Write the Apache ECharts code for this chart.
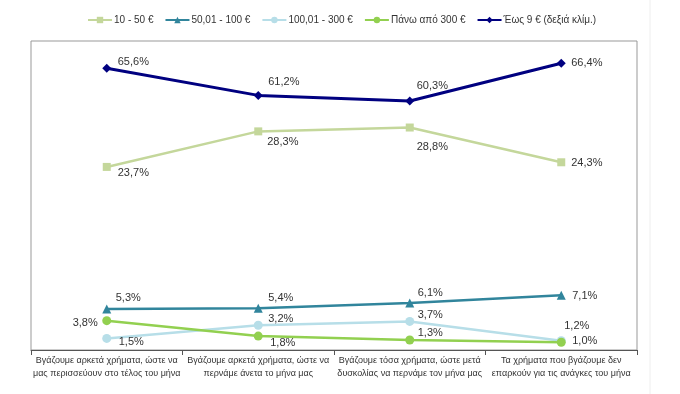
<!DOCTYPE html>
<html><head><meta charset="utf-8">
<script src="https://cdn.jsdelivr.net/npm/echarts@6/dist/echarts.min.js"></script>
<style>html,body{margin:0;padding:0;background:#fff}#c{width:680px;height:394px}</style>
</head><body><div id="c"></div>
<script>
const categories = [
  'Βγάζουμε αρκετά χρήματα, ώστε να\nμας περισσεύουν στο τέλος του μήνα',
  'Βγάζουμε αρκετά χρήματα, ώστε να\nπερνάμε άνετα το μήνα μας',
  'Βγάζουμε τόσα χρήματα, ώστε μετά\nδυσκολίας να περνάμε τον μήνα μας',
  'Τα χρήματα που βγάζουμε δεν\nεπαρκούν για τις ανάγκες του μήνα'
];
const seriesNames = ['10 - 50 €', '50,01 - 100 €', '100,01 - 300 €', 'Πάνω από 300 €', 'Έως 9 € (δεξιά κλίμ.)'];
const v10_50 = [23.7, 28.3, 28.8, 24.3];
const v50_100 = [5.3, 5.4, 6.1, 7.1];
const v100_300 = [1.5, 3.2, 3.7, 1.2];
const vOver300 = [3.8, 1.8, 1.3, 1.0];
const vUpTo9 = [65.6, 61.2, 60.3, 66.4];

// label placement (style): [dx from point to label edge, dy]
const labelOff = [
  [[11,6],[9,11],[7,19],[10,1]],
  [[9,-11],[10,-10],[8,-10],[11,1]],
  [[12,4],[10,-6],[8,-6],[3,-15]],
  [[-9,2],[12,7],[8,-7],[11,-1]],
  [[11,-6],[10,-13],[7,-15],[10,0]]
];
const styles = [
  {color:'#c4d79b', symbol:'rect', size:8, width:2.5, axis:0},
  {color:'#31859c', symbol:'triangle', size:9, width:2.5, axis:0},
  {color:'#b7dee8', symbol:'circle', size:9, width:2.5, axis:0},
  {color:'#92d050', symbol:'circle', size:9, width:2.5, axis:0},
  {color:'#000080', symbol:'diamond', size:9, width:3, axis:1}
];
const values = [v10_50, v50_100, v100_300, vOver300, vUpTo9];
const fmt = v => v.toFixed(1).replace('.', ',') + '%';
const font = '"Liberation Sans", Arial, sans-serif';

const series = values.map((vals, i) => {
  const st = styles[i];
  return {
    name: seriesNames[i], type: 'line', yAxisIndex: st.axis,
    symbol: st.symbol, symbolSize: st.size,
    lineStyle: {color: st.color, width: st.width},
    itemStyle: {color: st.color},
    data: vals.map((v, j) => {
      const [dx, dy] = labelOff[i][j];
      const left = dx < 0;
      return {value: v, label: {
        show: true, position: left ? 'left' : 'right', distance: 0,
        offset: [left ? dx + st.size/2 : dx - st.size/2, dy],
        formatter: p => fmt(p.value), fontSize: 11, color: '#333',
        fontFamily: font
      }};
    }),
    z: i === 4 ? 5 : 3
  };
});

const chart = echarts.init(document.getElementById('c'), null, {renderer: 'canvas'});
chart.setOption({
  animation: false,
  textStyle: {fontFamily: font},
  legend: {
    top: 10, left: 82, itemGap: 11, itemWidth: 24, itemHeight: 8,
    textStyle: {fontSize: 10, color: '#333', padding: [0,0,0,-3], fontFamily: font},
    data: seriesNames
  },
  grid: {left: 31, right: 43, top: 41, bottom: 44, show: true, borderColor: '#999', borderWidth: 1, containLabel: false},
  xAxis: {
    type: 'category', data: categories, boundaryGap: true,
    axisLine: {lineStyle: {color: '#555', width: 1}},
    axisTick: {show: true, length: 5, lineStyle: {color: '#555'}},
    axisLabel: {fontSize: 9, color: '#333', lineHeight: 13, margin: 4, interval: 0, fontFamily: font}
  },
  yAxis: [
    {type: 'value', min: 0, max: 40, show: false, splitLine: {show: false}},
    {type: 'value', min: 20, max: 70, show: false, splitLine: {show: false}}
  ],
  graphic: [{type: 'line', shape: {x1: 650, y1: 0, x2: 650, y2: 394}, style: {stroke: '#eeeeee', lineWidth: 1}}],
  series
});
</script></body></html>
